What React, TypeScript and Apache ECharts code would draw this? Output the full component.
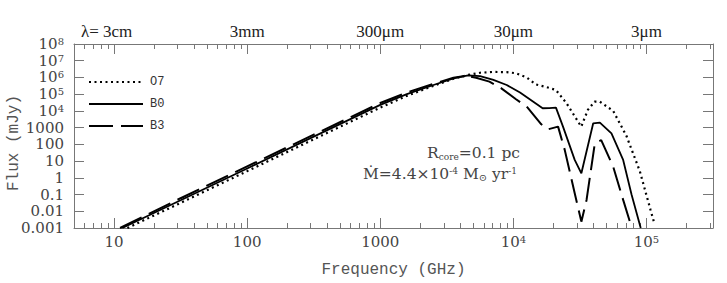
import React, { useEffect, useRef } from "react";
import * as echarts from "echarts";

// ---- data (log10 of frequency in GHz, log10 of flux in mJy) ----
const legendNames = ["O7", "B0", "B3"];

const logFreqO7 = [1.10, 1.5, 2.0, 2.5, 3.0, 3.2, 3.4, 3.55, 3.66, 3.75, 3.85, 3.95, 4.02, 4.1, 4.17, 4.25, 4.32, 4.40, 4.51, 4.56, 4.61, 4.65, 4.75, 4.85, 4.95, 5.03, 5.055];
const logFluxO7 = [-3.0, -1.5, 0.4, 2.3, 4.2, 4.9, 5.5, 5.92, 6.15, 6.28, 6.33, 6.32, 6.25, 6.0, 5.58, 5.42, 5.25, 4.45, 3.06, 4.06, 4.55, 4.55, 4.0, 2.5, 0.4, -1.9, -2.6];

const logFreqB0 = [1.062, 1.5, 2.0, 2.5, 3.0, 3.2, 3.4, 3.55, 3.66, 3.75, 3.85, 3.95, 4.05, 4.15, 4.22, 4.27, 4.32, 4.373, 4.42, 4.461, 4.511, 4.60, 4.65, 4.737, 4.825, 4.888, 4.957];
const logFluxB0 = [-3.0, -1.34, 0.56, 2.46, 4.36, 5.0, 5.55, 5.95, 6.12, 6.08, 5.85, 5.55, 5.1, 4.55, 4.16, 4.17, 4.2, 3.06, 2.0, 1.07, 0.27, 3.26, 3.3, 2.66, 1.07, -1.0, -3.0];

const logFreqB3 = [1.045, 1.5, 2.0, 2.5, 3.0, 3.2, 3.4, 3.55, 3.64, 3.72, 3.82, 3.91, 4.02, 4.107, 4.21, 4.26, 4.336, 4.386, 4.461, 4.511, 4.55, 4.612, 4.66, 4.75, 4.825, 4.89];
const logFluxB3 = [-3.0, -1.22, 0.68, 2.58, 4.47, 5.1, 5.62, 5.98, 6.1, 5.98, 5.75, 5.35, 4.7, 4.2, 3.2, 2.9, 3.06, 1.67, -0.92, -2.62, -1.32, 2.06, 2.25, 0.67, -1.32, -3.0];

// ---- axes ----
const xMin = Math.log10(5);
const xMax = 5.5;
const xMajorTicks = [1, 2, 3, 4, 5];
const xMajorLabels = ["10", "100", "1000", "10{sup|4}", "10{sup|5}"];
const topLabels = ["λ= 3cm{pad| }", "3mm", "300μm", "30μm", "3μm"];
const minorMultipliers = [2, 3, 4, 5, 6, 7, 8, 9];
const yMin = -3;
const yMax = 8;
const yTickLabels = ["0.001", "0.01", "0.1", "1", "10", "100", "1000", "10{sup|4}", "10{sup|5}", "10{sup|6}", "10{sup|7}", "10{sup|8}"];

const xMinorTicks: number[] = [];
for (let d = 0; d <= 5; d++) {
  for (const k of minorMultipliers) {
    const v = d + Math.log10(k);
    if (v > xMin && v < xMax) xMinorTicks.push(v);
  }
}

const axisColor = "#777";
const labelColor = "#444";
const serif = "DejaVu Serif";
const mono = "Liberation Mono";

const pairs = (xs: number[], ys: number[]) => xs.map((x, i) => [x, ys[i]]);

const supRich = {
  sup: { fontFamily: serif, fontSize: 10, color: labelColor, verticalAlign: "top" as const },
};

const axisLine = { show: true, onZero: false, lineStyle: { color: axisColor, width: 1 } };

const option: any = {
  animation: false,
  grid: { left: 74, right: 14, top: 44, bottom: 55, outerBoundsMode: "none", containLabel: false },
  legend: {
    orient: "vertical",
    left: 88,
    top: 71,
    padding: [5, 5, 5, 0],
    itemWidth: 54,
    itemHeight: 14,
    itemGap: 10,
    data: legendNames,
    itemStyle: { opacity: 0 },
    textStyle: { fontFamily: mono, fontSize: 12, color: "#333", padding: [0, 0, 0, 2] },
  },
  xAxis: [
    {
      type: "value",
      position: "bottom",
      min: xMin,
      max: xMax,
      name: "Frequency (GHz)",
      nameLocation: "middle",
      nameGap: 34,
      nameTextStyle: { fontFamily: mono, fontSize: 16, color: "#555" },
      axisLine,
      axisTick: { show: true, inside: true, length: 10, customValues: xMajorTicks, lineStyle: { color: axisColor } },
      axisLabel: {
        customValues: xMajorTicks,
        margin: 6,
        fontFamily: serif,
        fontSize: 15,
        color: labelColor,
        formatter: (v: number) => xMajorLabels[Math.round(v) - 1] ?? "",
        rich: supRich,
      },
      splitLine: { show: false },
    },
    {
      type: "value",
      position: "top",
      min: xMin,
      max: xMax,
      axisLine,
      axisTick: { show: true, inside: true, length: 10, customValues: xMajorTicks, lineStyle: { color: axisColor } },
      axisLabel: {
        customValues: xMajorTicks,
        margin: 4,
        fontFamily: "Liberation Serif",
        fontSize: 17,
        color: "#222",
        formatter: (v: number) => topLabels[Math.round(v) - 1] ?? "",
        rich: { pad: { fontFamily: "Liberation Serif", fontSize: 17, width: 15 } },
      },
      splitLine: { show: false },
    },
    {
      type: "value",
      position: "bottom",
      min: xMin,
      max: xMax,
      axisLine: { show: false, onZero: false },
      axisTick: { show: true, inside: true, length: 5, customValues: xMinorTicks, lineStyle: { color: axisColor } },
      axisLabel: { show: false },
      splitLine: { show: false },
    },
    {
      type: "value",
      position: "top",
      min: xMin,
      max: xMax,
      axisLine: { show: false, onZero: false },
      axisTick: { show: true, inside: true, length: 5, customValues: xMinorTicks, lineStyle: { color: axisColor } },
      axisLabel: { show: false },
      splitLine: { show: false },
    },
  ],
  yAxis: [
    {
      type: "value",
      position: "left",
      min: yMin,
      max: yMax,
      interval: 1,
      name: "Flux (mJy)",
      nameLocation: "middle",
      nameGap: 52,
      nameMoveOverlap: false,
      nameTextStyle: { fontFamily: mono, fontSize: 16, color: "#555", padding: [0, 14, 0, 0] },
      axisLine,
      axisTick: { show: true, inside: true, length: 10, lineStyle: { color: axisColor } },
      axisLabel: {
        margin: 10,
        fontFamily: serif,
        fontSize: 15,
        color: labelColor,
        formatter: (v: number) => yTickLabels[Math.round(v) - yMin] ?? "",
        rich: supRich,
      },
      splitLine: { show: false },
    },
    {
      type: "value",
      position: "right",
      min: yMin,
      max: yMax,
      interval: 1,
      axisLine,
      axisTick: { show: true, inside: true, length: 10, lineStyle: { color: axisColor } },
      axisLabel: { show: false },
      splitLine: { show: false },
    },
  ],
  series: [
    {
      name: "O7",
      type: "line",
      xAxisIndex: 0,
      yAxisIndex: 0,
      symbol: "none",
      data: pairs(logFreqO7, logFluxO7),
      lineStyle: { color: "#000", width: 2.2, type: [2, 3.5] },
      itemStyle: { color: "#000" },
    },
    {
      name: "B0",
      type: "line",
      xAxisIndex: 0,
      yAxisIndex: 0,
      symbol: "none",
      data: pairs(logFreqB0, logFluxB0),
      lineStyle: { color: "#000", width: 1.8, type: "solid" },
      itemStyle: { color: "#000" },
    },
    {
      name: "B3",
      type: "line",
      xAxisIndex: 0,
      yAxisIndex: 0,
      symbol: "none",
      data: pairs(logFreqB3, logFluxB3),
      lineStyle: { color: "#000", width: 2, type: [24, 8] },
      itemStyle: { color: "#000" },
    },
  ],
  graphic: [
    {
      type: "text",
      x: 520,
      y: 153,
      style: {
        text: "R{sub|core}=0.1 pc",
        align: "right",
        verticalAlign: "middle",
        fontFamily: serif,
        fontSize: 15.5,
        fill: labelColor,
        rich: {
          sub: { fontFamily: serif, fontSize: 9, fill: labelColor, verticalAlign: "bottom" },
        },
      },
    },
    {
      type: "text",
      x: 517,
      y: 174,
      style: {
        text: "Ṁ=4.4×10{sup|-4} M{sub|⊙} yr{sup|-1}",
        align: "right",
        verticalAlign: "middle",
        fontFamily: serif,
        fontSize: 15.5,
        fill: labelColor,
        rich: {
          sub: { fontFamily: serif, fontSize: 10, fill: labelColor, verticalAlign: "bottom" },
          sup: { fontFamily: serif, fontSize: 9, fill: labelColor, verticalAlign: "top" },
        },
      },
    },
  ],
};

export default function App() {
  const ref = useRef<HTMLDivElement>(null);
  useEffect(() => {
    if (!ref.current) return;
    const chart = echarts.init(ref.current, null, { renderer: "svg" });
    chart.setOption(option);
    return () => chart.dispose();
  }, []);
  return (
    <div
      ref={ref}
      style={{ position: "fixed", left: 0, top: 0, width: 727, height: 283, background: "#fff" }}
    />
  );
}
